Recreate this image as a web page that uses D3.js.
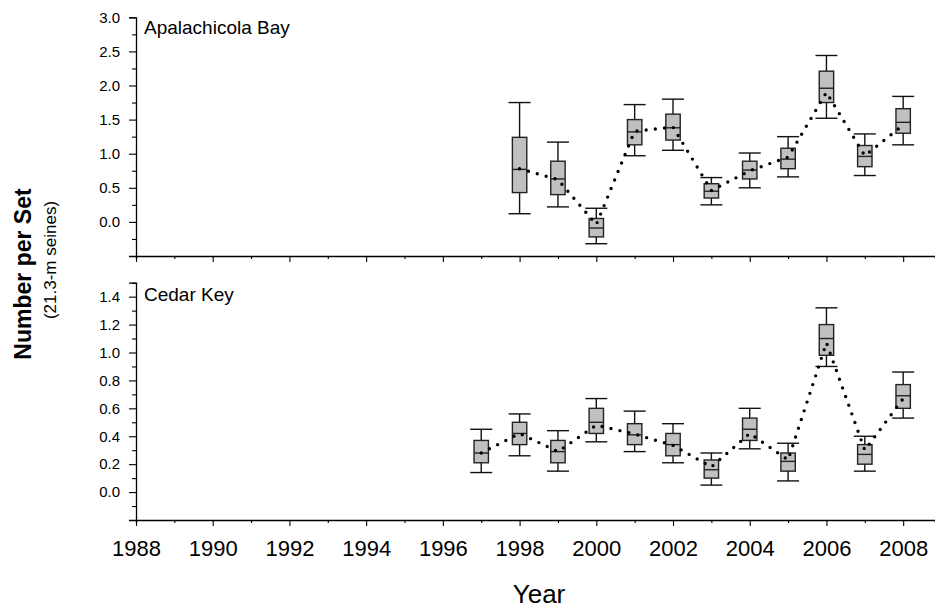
<!DOCTYPE html>
<html>
<head>
<meta charset="utf-8">
<script src="https://d3js.org/d3.v7.min.js"></script>
<style>
  body { margin: 0; background: white; }
  svg text { font-family: "Liberation Sans", Arial, sans-serif; fill: black; }
</style>
</head>
<body>
<svg id="chart" width="935" height="610"></svg>
<script>
// Apalachicola Bay (top panel)
const apalYears = [1998, 1999, 2000, 2001, 2002, 2003, 2004, 2005, 2006, 2007, 2008];
const apalLo   = [0.12, 0.22, -0.32, 0.97, 1.05, 0.25, 0.50, 0.66, 1.52, 0.68, 1.13];
const apalQ1   = [0.43, 0.40, -0.22, 1.13, 1.20, 0.35, 0.63, 0.78, 1.75, 0.81, 1.30];
const apalMed  = [0.77, 0.63, -0.09, 1.32, 1.38, 0.45, 0.76, 0.92, 1.96, 0.96, 1.46];
const apalQ3   = [1.24, 0.89, 0.05, 1.50, 1.58, 0.56, 0.89, 1.08, 2.21, 1.12, 1.66];
const apalHi   = [1.75, 1.17, 0.20, 1.72, 1.80, 0.65, 1.01, 1.25, 2.44, 1.29, 1.84];
const apalMean = [0.78, 0.62, -0.04, 1.33, 1.39, 0.46, 0.75, 0.95, 1.90, 0.97, 1.42];

// Cedar Key (bottom panel)
const cedarYears = [1997, 1998, 1999, 2000, 2001, 2002, 2003, 2004, 2005, 2006, 2007, 2008];
const cedarLo   = [0.14, 0.26, 0.15, 0.36, 0.29, 0.21, 0.05, 0.31, 0.08, 0.90, 0.15, 0.53];
const cedarQ1   = [0.21, 0.34, 0.21, 0.42, 0.34, 0.26, 0.10, 0.37, 0.15, 0.98, 0.20, 0.60];
const cedarMed  = [0.28, 0.42, 0.29, 0.50, 0.41, 0.34, 0.16, 0.45, 0.22, 1.10, 0.27, 0.69];
const cedarQ3   = [0.37, 0.50, 0.37, 0.60, 0.49, 0.42, 0.23, 0.53, 0.28, 1.20, 0.34, 0.77];
const cedarHi   = [0.45, 0.56, 0.44, 0.67, 0.58, 0.49, 0.28, 0.60, 0.35, 1.32, 0.40, 0.86];
const cedarMean = [0.28, 0.42, 0.29, 0.48, 0.415, 0.335, 0.18, 0.42, 0.23, 1.07, 0.30, 0.67];

// ticks
const yearTicks = d3.range(1988, 2009);
const yearLabels = d3.range(1988, 2009, 2);
const apalMajor = [0, 0.5, 1, 1.5, 2, 2.5, 3];
const apalMinor = [-0.25, 0.25, 0.75, 1.25, 1.75, 2.25, 2.75];
const cedarMajor = [0, 0.2, 0.4, 0.6, 0.8, 1.0, 1.2, 1.4];
const cedarMinor = [-0.1, 0.1, 0.3, 0.5, 0.7, 0.9, 1.1, 1.3, 1.5];

const svg = d3.select("#chart");

let x = d3.scaleLinear().domain([1988, 2008.83]).range([136, 935]);

function rows(years, lo, q1, med, q3, hi, mean) {
  return years.map((y, i) => ({year: y, lo: lo[i], q1: q1[i], med: med[i], q3: q3[i], hi: hi[i], mean: mean[i]}));
}

function drawPanel(data, yScale, major, minor, label, labelY, showXLabels) {
  let g = svg.append("g");
  let bottom = yScale.range()[0];

  // y axis, major ticks with labels
  let yAx = g.append("g").attr("transform", "translate(136,0)")
    .call(d3.axisLeft(yScale).tickValues(major).tickSize(7).tickPadding(0).tickFormat(d3.format(".1f")));
  yAx.selectAll("text").attr("x", -16).style("font-size", "15px");
  // minor ticks
  g.append("g").attr("transform", "translate(136,0)")
    .call(d3.axisLeft(yScale).tickValues(minor).tickSize(4).tickFormat(""))
    .select(".domain").remove();

  // x axis
  let xAx = g.append("g").attr("transform", `translate(0,${bottom})`)
    .call(d3.axisBottom(x).tickValues(yearTicks).tickSizeOuter(0)
      .tickSize(3).tickFormat(""));
  xAx.selectAll(".tick line").attr("y2", d => d % 2 == 0 ? 6 : 3);
  if (showXLabels) {
    xAx.selectAll(".tick").filter(d => d % 2 == 0).append("text")
      .attr("y", 36).attr("text-anchor", "middle")
      .style("font-size", "22px").text(d => d);
  }
  g.selectAll(".domain").attr("stroke", "#000").attr("stroke-width", 1.3);
  g.selectAll(".tick line").attr("stroke", "#000").attr("stroke-width", 1.1);

  // boxes
  let boxes = g.selectAll(".box").data(data).enter().append("g").attr("class", "box");
  boxes.append("line")
    .attr("x1", d => x(d.year)).attr("x2", d => x(d.year))
    .attr("y1", d => yScale(d.hi)).attr("y2", d => yScale(d.lo))
    .attr("stroke", "#111").attr("stroke-width", 1.4);
  boxes.append("line")
    .attr("x1", d => x(d.year) - 11).attr("x2", d => x(d.year) + 11)
    .attr("y1", d => yScale(d.hi)).attr("y2", d => yScale(d.hi))
    .attr("stroke", "#111").attr("stroke-width", 1.4);
  boxes.append("line")
    .attr("x1", d => x(d.year) - 11).attr("x2", d => x(d.year) + 11)
    .attr("y1", d => yScale(d.lo)).attr("y2", d => yScale(d.lo))
    .attr("stroke", "#111").attr("stroke-width", 1.4);
  boxes.append("rect")
    .attr("x", d => x(d.year) - 7.2).attr("width", 14.4)
    .attr("y", d => yScale(d.q3)).attr("height", d => yScale(d.q1) - yScale(d.q3))
    .attr("fill", "#c0c0c0").attr("stroke", "#222").attr("stroke-width", 1.4);
  boxes.append("line")
    .attr("x1", d => x(d.year) - 7.2).attr("x2", d => x(d.year) + 7.2)
    .attr("y1", d => yScale(d.med)).attr("y2", d => yScale(d.med))
    .attr("stroke", "#222").attr("stroke-width", 1.4);

  // dotted mean line
  let line = d3.line().x(d => x(d.year)).y(d => yScale(d.mean));
  g.append("path").datum(data).attr("d", line)
    .attr("fill", "none").attr("stroke", "#000").attr("stroke-width", 3.4)
    .attr("stroke-linecap", "round").attr("stroke-dasharray", "0,9.2");

  g.append("text").attr("x", 144).attr("y", labelY)
    .style("font-size", "19px").text(label);
}

let yTop = d3.scaleLinear().domain([-0.5, 3]).range([256, 17.3]);
let yBot = d3.scaleLinear().domain([-0.2, 1.5]).range([520, 282.7]);

drawPanel(rows(apalYears, apalLo, apalQ1, apalMed, apalQ3, apalHi, apalMean), yTop, apalMajor, apalMinor, "Apalachicola Bay", 34, false);
drawPanel(rows(cedarYears, cedarLo, cedarQ1, cedarMed, cedarQ3, cedarHi, cedarMean), yBot, cedarMajor, cedarMinor, "Cedar Key", 301, true);

// axis titles
svg.append("text").attr("transform", "translate(31,274) rotate(-90)")
  .attr("text-anchor", "middle").style("font-size", "23px").style("font-weight", "bold")
  .text("Number per Set");
svg.append("text").attr("transform", "translate(56,260) rotate(-90)")
  .attr("text-anchor", "middle").style("font-size", "17px")
  .text("(21.3-m seines)");
svg.append("text").attr("x", 539).attr("y", 603)
  .attr("text-anchor", "middle").style("font-size", "26px")
  .text("Year");
</script>
</body>
</html>
